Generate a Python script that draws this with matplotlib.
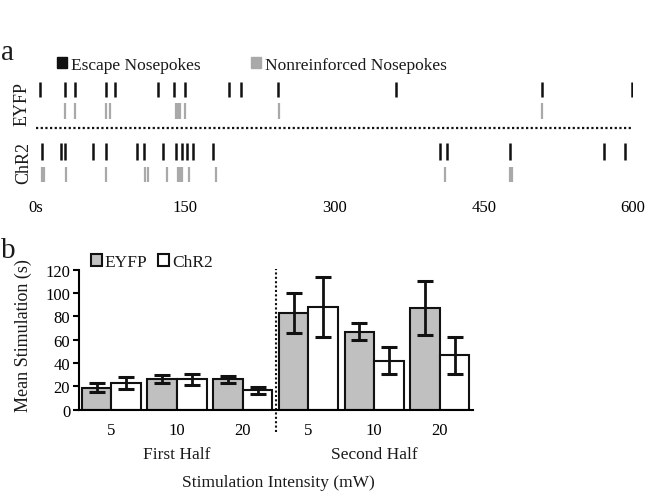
import matplotlib.pyplot as plt
from matplotlib.patches import Patch

plt.rcParams['font.family'] = ['Liberation Serif', 'DejaVu Serif']
plt.rcParams['text.color'] = '#1a1a1a'

# Panel a -- nosepoke times (s) in a 600 s session
eyfp_escape = [4, 29, 39, 71, 80, 123, 139, 150, 194, 206, 243, 362, 509, 599]
eyfp_nonreinf = [29, 39, 71, 75, 141, 143, 145, 150, 244, 509]
chr2_escape = [6, 25, 29, 58, 71, 102, 109, 128, 141, 147, 152, 158, 178,
               406, 413, 476, 571, 592]
chr2_nonreinf = [6, 8, 30, 71, 110, 113, 132, 143, 145, 147, 154, 181, 411, 476, 478]
time_ticks = [0, 150, 300, 450, 600]
time_labels = ['0s', '150', '300', '450', '600']

# Panel b -- mean stimulation (s) per intensity
intensity_labels = ['5', '10', '20', '5', '10', '20']
half_labels = ['First Half', 'Second Half']
eyfp_mean = [19, 26, 26, 83, 67, 87]
eyfp_err = [4, 3.5, 3, 17, 7.5, 23]
chr2_mean = [23, 26, 16.5, 88, 42, 46.5]
chr2_err = [5.3, 5, 3.2, 25.7, 11.5, 16.2]

W, H = 649, 502
fig = plt.figure(figsize=(W / 100, H / 100), dpi=100)

BLACK = '#111111'
GRAY = '#a9a9a9'
BAR_GRAY = '#c0c0c0'

# ---------------- panel a ----------------
ax1 = fig.add_axes([35.7 / W, 1 - 190 / H, (633.1 - 35.7) / W, 115 / H])
rows = [eyfp_escape, eyfp_nonreinf, chr2_escape, chr2_nonreinf]
row_y = [90, 112, 152.7, 175.5]
row_len = [15, 15.5, 16.5, 15.5]
row_col = [BLACK, GRAY, BLACK, GRAY]
ax1.eventplot(rows, lineoffsets=row_y, linelengths=row_len, colors=row_col,
              linewidths=[1.8, 1.6, 1.8, 1.6])
ax1.plot([0, 601], [129.3, 129.3], color=BLACK, lw=1.6, ls=(0, (1, 1.1)))
ax1.set_xlim(0, 600)
ax1.set_ylim(190, 75)
for s in ax1.spines.values():
    s.set_visible(False)
ax1.set_yticks([])
ax1.set_xticks(time_ticks)
ax1.set_xticklabels(time_labels, fontsize=12)
ax1.tick_params(axis='x', length=0, pad=7)

fig.text(22 / W, 1 - 104 / H, 'EYFP', rotation=90, ha='center', va='center', fontsize=13)
fig.text(24 / W, 1 - 163 / H, 'ChR2', rotation=90, ha='center', va='center', fontsize=13)
fig.text(1 / W, 1 - 60 / H, 'a', fontsize=21)

ax1.legend(handles=[Patch(color=BLACK, label='Escape Nosepokes'),
                    Patch(color=GRAY, label='Nonreinforced Nosepokes')],
           ncol=2, frameon=False, fontsize=12.5, loc='center left',
           bbox_to_anchor=(57 / W, 1 - 66 / H), bbox_transform=fig.transFigure,
           handlelength=0.6, handleheight=0.6, handletextpad=0.2,
           columnspacing=2.9, borderpad=0, borderaxespad=0)

# ---------------- panel b ----------------
ax2 = fig.add_axes([78.5 / W, 1 - 410.7 / H, (472.7 - 78.5) / W, 140 / H])
x = list(range(len(intensity_labels)))
bw = 0.45
ekw = dict(ecolor=BLACK, elinewidth=2.0, capsize=5.5, capthick=2.2, fmt='none')
ax2.bar([i - bw / 2 for i in x], eyfp_mean, bw, color=BAR_GRAY, edgecolor=BLACK,
        linewidth=1.5, label='EYFP')
ax2.bar([i + bw / 2 for i in x], chr2_mean, bw, color='white', edgecolor=BLACK,
        linewidth=1.5, label='ChR2')
ax2.errorbar([i - bw / 2 for i in x], eyfp_mean, yerr=eyfp_err, **ekw)
ax2.errorbar([i + bw / 2 for i in x], chr2_mean, yerr=chr2_err, **ekw)

ax2.plot([2.5, 2.5], [-19, 121], color=BLACK, lw=1.5, ls=(0, (1, 1.1)), clip_on=False)

ax2.set_xlim(-0.5, 5.5)
ax2.set_ylim(0, 120)
ax2.set_yticks(range(0, 121, 20))
ax2.tick_params(axis='y', labelsize=12, length=4, width=1.5, pad=2)
ax2.set_xticks(x)
ax2.set_xticklabels(intensity_labels, fontsize=12)
ax2.tick_params(axis='x', length=0, pad=9)
ax2.spines['top'].set_visible(False)
ax2.spines['right'].set_visible(False)
ax2.spines['left'].set_linewidth(1.5)
ax2.spines['bottom'].set_linewidth(1.5)

ax2.text(1, -44 / 140 * 120, half_labels[0], ha='center', va='center', fontsize=12.5,
         transform=ax2.transData)
ax2.text(4, -44 / 140 * 120, half_labels[1], ha='center', va='center', fontsize=12.5,
         transform=ax2.transData)
fig.text(278 / W, 1 - 483 / H, 'Stimulation Intensity (mW)', ha='center', va='center',
         fontsize=12.5)
fig.text(23 / W, 1 - 336 / H, 'Mean Stimulation (s)', rotation=90, ha='center',
         va='center', fontsize=13)
fig.text(1 / W, 1 - 258 / H, 'b', fontsize=21)

ax2.legend(ncol=2, frameon=False, fontsize=12.5, loc='center left',
           bbox_to_anchor=(91 / W, 1 - 263 / H), bbox_transform=fig.transFigure,
           handlelength=0.65, handleheight=0.65, handletextpad=0.15,
           columnspacing=0.6, borderpad=0, borderaxespad=0)

fig.savefig('out.png', dpi=100)
